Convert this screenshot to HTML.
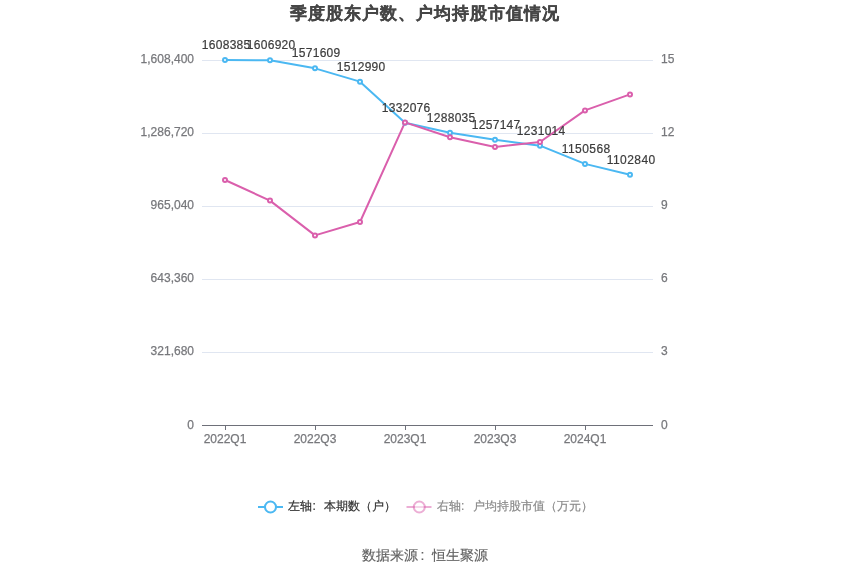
<!DOCTYPE html><html><head><meta charset="utf-8"><style>html,body{margin:0;padding:0;background:#fff;width:850px;height:575px;overflow:hidden}svg{display:block;will-change:transform}text{font-family:"Liberation Sans",sans-serif}</style></head><body>
<svg width="850" height="575" viewBox="0 0 850 575">
<rect width="850" height="575" fill="#fff"/>
<text x="425" y="18.8" text-anchor="middle" font-size="17" letter-spacing="1" font-weight="bold" fill="#464646" stroke="#464646" stroke-width="0.25">季度股东户数、户均持股市值情况</text>
<text x="194" y="428.5" text-anchor="end" font-size="12" fill="#77787C" stroke="#77787C" stroke-width="0.25">0</text>
<text x="661" y="428.5" font-size="12" fill="#77787C" stroke="#77787C" stroke-width="0.25">0</text>
<line x1="202" y1="352.5" x2="653" y2="352.5" stroke="#E0E6F1" stroke-width="1"/>
<text x="194" y="354.5" text-anchor="end" font-size="12" fill="#77787C" stroke="#77787C" stroke-width="0.25">321,680</text>
<text x="661" y="354.5" font-size="12" fill="#77787C" stroke="#77787C" stroke-width="0.25">3</text>
<line x1="202" y1="279.5" x2="653" y2="279.5" stroke="#E0E6F1" stroke-width="1"/>
<text x="194" y="281.5" text-anchor="end" font-size="12" fill="#77787C" stroke="#77787C" stroke-width="0.25">643,360</text>
<text x="661" y="281.5" font-size="12" fill="#77787C" stroke="#77787C" stroke-width="0.25">6</text>
<line x1="202" y1="206.5" x2="653" y2="206.5" stroke="#E0E6F1" stroke-width="1"/>
<text x="194" y="208.5" text-anchor="end" font-size="12" fill="#77787C" stroke="#77787C" stroke-width="0.25">965,040</text>
<text x="661" y="208.5" font-size="12" fill="#77787C" stroke="#77787C" stroke-width="0.25">9</text>
<line x1="202" y1="133.5" x2="653" y2="133.5" stroke="#E0E6F1" stroke-width="1"/>
<text x="194" y="135.5" text-anchor="end" font-size="12" fill="#77787C" stroke="#77787C" stroke-width="0.25">1,286,720</text>
<text x="661" y="135.5" font-size="12" fill="#77787C" stroke="#77787C" stroke-width="0.25">12</text>
<line x1="202" y1="60.5" x2="653" y2="60.5" stroke="#E0E6F1" stroke-width="1"/>
<text x="194" y="62.5" text-anchor="end" font-size="12" fill="#77787C" stroke="#77787C" stroke-width="0.25">1,608,400</text>
<text x="661" y="62.5" font-size="12" fill="#77787C" stroke="#77787C" stroke-width="0.25">15</text>
<line x1="202" y1="425.5" x2="653" y2="425.5" stroke="#6E7079" stroke-width="1"/>
<line x1="225.5" y1="425" x2="225.5" y2="430" stroke="#6E7079" stroke-width="1"/>
<text x="225" y="443" text-anchor="middle" font-size="12" fill="#77787C" stroke="#77787C" stroke-width="0.25">2022Q1</text>
<line x1="315.5" y1="425" x2="315.5" y2="430" stroke="#6E7079" stroke-width="1"/>
<text x="315" y="443" text-anchor="middle" font-size="12" fill="#77787C" stroke="#77787C" stroke-width="0.25">2022Q3</text>
<line x1="405.5" y1="425" x2="405.5" y2="430" stroke="#6E7079" stroke-width="1"/>
<text x="405" y="443" text-anchor="middle" font-size="12" fill="#77787C" stroke="#77787C" stroke-width="0.25">2023Q1</text>
<line x1="495.5" y1="425" x2="495.5" y2="430" stroke="#6E7079" stroke-width="1"/>
<text x="495" y="443" text-anchor="middle" font-size="12" fill="#77787C" stroke="#77787C" stroke-width="0.25">2023Q3</text>
<line x1="585.5" y1="425" x2="585.5" y2="430" stroke="#6E7079" stroke-width="1"/>
<text x="585" y="443" text-anchor="middle" font-size="12" fill="#77787C" stroke="#77787C" stroke-width="0.25">2024Q1</text>
<polyline points="225,60.00 270,60.34 315,68.35 360,81.65 405,122.71 450,132.70 495,139.71 540,145.64 585,163.90 630,174.73" fill="none" stroke="#4BB8F2" stroke-width="2" stroke-linejoin="bevel"/>
<polyline points="225,180.00 270,200.60 315,235.40 360,222.00 405,122.40 450,137.20 495,147.00 540,142.00 585,110.40 630,94.40" fill="none" stroke="#DA5FAC" stroke-width="2" stroke-linejoin="bevel"/>
<circle cx="225" cy="60.00" r="2" fill="#fff" stroke="#4BB8F2" stroke-width="2"/>
<circle cx="270" cy="60.34" r="2" fill="#fff" stroke="#4BB8F2" stroke-width="2"/>
<circle cx="315" cy="68.35" r="2" fill="#fff" stroke="#4BB8F2" stroke-width="2"/>
<circle cx="360" cy="81.65" r="2" fill="#fff" stroke="#4BB8F2" stroke-width="2"/>
<circle cx="405" cy="122.71" r="2" fill="#fff" stroke="#4BB8F2" stroke-width="2"/>
<circle cx="450" cy="132.70" r="2" fill="#fff" stroke="#4BB8F2" stroke-width="2"/>
<circle cx="495" cy="139.71" r="2" fill="#fff" stroke="#4BB8F2" stroke-width="2"/>
<circle cx="540" cy="145.64" r="2" fill="#fff" stroke="#4BB8F2" stroke-width="2"/>
<circle cx="585" cy="163.90" r="2" fill="#fff" stroke="#4BB8F2" stroke-width="2"/>
<circle cx="630" cy="174.73" r="2" fill="#fff" stroke="#4BB8F2" stroke-width="2"/>
<circle cx="225" cy="180.00" r="2" fill="#fff" stroke="#DA5FAC" stroke-width="2"/>
<circle cx="270" cy="200.60" r="2" fill="#fff" stroke="#DA5FAC" stroke-width="2"/>
<circle cx="315" cy="235.40" r="2" fill="#fff" stroke="#DA5FAC" stroke-width="2"/>
<circle cx="360" cy="222.00" r="2" fill="#fff" stroke="#DA5FAC" stroke-width="2"/>
<circle cx="405" cy="122.40" r="2" fill="#fff" stroke="#DA5FAC" stroke-width="2"/>
<circle cx="450" cy="137.20" r="2" fill="#fff" stroke="#DA5FAC" stroke-width="2"/>
<circle cx="495" cy="147.00" r="2" fill="#fff" stroke="#DA5FAC" stroke-width="2"/>
<circle cx="540" cy="142.00" r="2" fill="#fff" stroke="#DA5FAC" stroke-width="2"/>
<circle cx="585" cy="110.40" r="2" fill="#fff" stroke="#DA5FAC" stroke-width="2"/>
<circle cx="630" cy="94.40" r="2" fill="#fff" stroke="#DA5FAC" stroke-width="2"/>
<text x="226" y="49.0" text-anchor="middle" font-size="12" fill="#3C3C3C" stroke="#3C3C3C" stroke-width="0.2" textLength="48.5">1608385</text>
<text x="271" y="49.3" text-anchor="middle" font-size="12" fill="#3C3C3C" stroke="#3C3C3C" stroke-width="0.2" textLength="48.5">1606920</text>
<text x="316" y="57.3" text-anchor="middle" font-size="12" fill="#3C3C3C" stroke="#3C3C3C" stroke-width="0.2" textLength="48.5">1571609</text>
<text x="361" y="70.7" text-anchor="middle" font-size="12" fill="#3C3C3C" stroke="#3C3C3C" stroke-width="0.2" textLength="48.5">1512990</text>
<text x="406" y="111.7" text-anchor="middle" font-size="12" fill="#3C3C3C" stroke="#3C3C3C" stroke-width="0.2" textLength="48.5">1332076</text>
<text x="451" y="121.7" text-anchor="middle" font-size="12" fill="#3C3C3C" stroke="#3C3C3C" stroke-width="0.2" textLength="48.5">1288035</text>
<text x="496" y="128.7" text-anchor="middle" font-size="12" fill="#3C3C3C" stroke="#3C3C3C" stroke-width="0.2" textLength="48.5">1257147</text>
<text x="541" y="134.6" text-anchor="middle" font-size="12" fill="#3C3C3C" stroke="#3C3C3C" stroke-width="0.2" textLength="48.5">1231014</text>
<text x="586" y="152.9" text-anchor="middle" font-size="12" fill="#3C3C3C" stroke="#3C3C3C" stroke-width="0.2" textLength="48.5">1150568</text>
<text x="631" y="163.7" text-anchor="middle" font-size="12" fill="#3C3C3C" stroke="#3C3C3C" stroke-width="0.2" textLength="48.5">1102840</text>
<line x1="258" y1="507" x2="283" y2="507" stroke="#4BB8F2" stroke-width="2"/>
<circle cx="270.5" cy="507" r="5.5" fill="#fff" stroke="#4BB8F2" stroke-width="2"/>
<text y="509.5" font-size="12" fill="#333" stroke="#333" stroke-width="0.2"><tspan x="288">左轴</tspan><tspan x="312.5">:</tspan><tspan x="324">本期数（户）</tspan></text>
<line x1="406.5" y1="507" x2="431.5" y2="507" stroke="#DA5FAC" stroke-width="2" opacity="0.5"/>
<circle cx="419.3" cy="507" r="5.5" fill="#fff" stroke="#DA5FAC" stroke-width="2" opacity="0.5"/>
<text y="509.5" font-size="12" fill="#8A8A8A" stroke="#8A8A8A" stroke-width="0.2"><tspan x="436.5">右轴</tspan><tspan x="461">:</tspan><tspan x="472.5">户均持股市值（万元）</tspan></text>
<text y="559.5" font-size="14" fill="#606060" stroke="#606060" stroke-width="0.15"><tspan x="362">数据来源</tspan><tspan x="420.5">:</tspan><tspan x="432">恒生聚源</tspan></text>
</svg></body></html>
